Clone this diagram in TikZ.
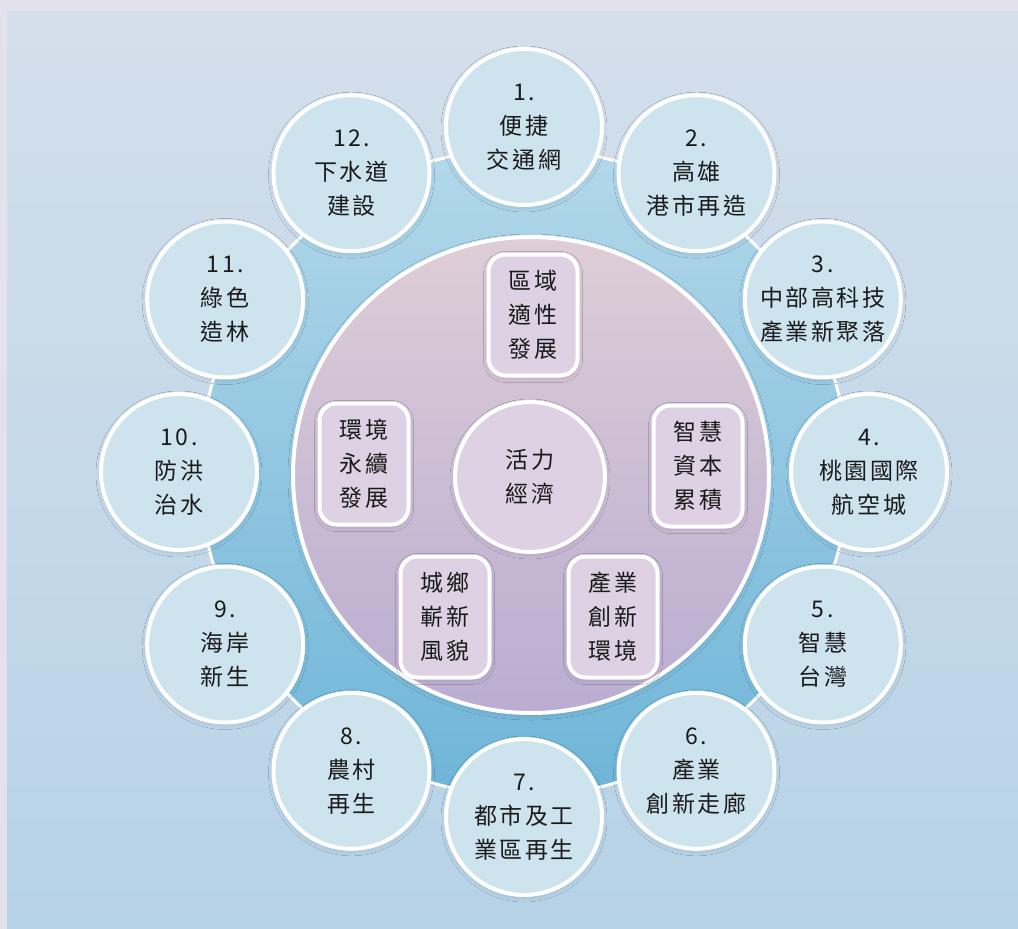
\documentclass[tikz,border=0pt]{standalone}
\usepackage{fontspec}
\newfontfamily\cjk[LetterSpace=11]{Noto Sans CJK TC}
\usetikzlibrary{shadows.blur}
\definecolor{frame}{HTML}{E3E2EC}
\definecolor{paneltop}{HTML}{D4DFEB}
\definecolor{panelbot}{HTML}{B7D3E7}
\definecolor{ringtop}{HTML}{B3D8EA}
\definecolor{ringbot}{HTML}{6FB5D8}
\definecolor{innertop}{HTML}{DDCED7}
\definecolor{innerbot}{HTML}{BAADD1}
\definecolor{smallfill}{HTML}{CDE3EE}
\definecolor{boxfill}{HTML}{DDD1E3}
\definecolor{ink}{HTML}{1A1A1A}
\tikzset{
  softshadow/.style={blur shadow={shadow xshift=0pt, shadow yshift=-2pt, shadow blur radius=5pt, shadow blur steps=10, shadow opacity=14}},
  txt/.style={text=ink, align=center, font=\cjk\fontsize{23}{34}\selectfont},
  item/.style={circle, inner sep=0pt, minimum size=156pt, draw=white, line width=4pt, fill=smallfill, txt, softshadow},
  pillar/.style={rectangle, rounded corners=17pt, inner sep=0pt, minimum width=89pt, minimum height=121pt, draw=white, line width=4pt, fill=boxfill, txt, softshadow},
  hub/.style={circle, inner sep=0pt, minimum size=150pt, draw=white, line width=4pt, fill=boxfill, txt, softshadow},
}
\begin{document}
\begin{tikzpicture}[x=1pt, y=-1pt]
  \useasboundingbox (0,0) rectangle (1018,929);
  \fill[frame] (0,0) rectangle (1018,929);
  \fill[top color=paneltop, bottom color=panelbot] (7,11) rectangle (1018,929);

  \node[circle, inner sep=0pt, minimum size=648pt, draw=white, line width=3pt,
        top color=ringtop, bottom color=ringbot] (ring) at (524,472) {};
  \node[circle, inner sep=0pt, minimum size=476pt, draw=white, line width=4pt,
        top color=innertop, bottom color=innerbot, softshadow] (inner) at (531,475) {};

  \node[hub] (hub) at (530,477) {活力\\經濟};
  \node[pillar] (p1) at (533,315) {區域\\適性\\發展};
  \node[pillar] (p2) at (698,466) {智慧\\資本\\累積};
  \node[pillar] (p3) at (613,617) {產業\\創新\\環境};
  \node[pillar] (p4) at (445,617) {城鄉\\嶄新\\風貌};
  \node[pillar] (p5) at (364,464) {環境\\永續\\發展};

  \node[item] (c1)  at (524,127)     {1.\\便捷\\交通網};
  \node[item] (c2)  at (696.5,173.2) {2.\\高雄\\港市再造};
  \node[item] (c3)  at (822.8,299.5) {3.\\中部高科技\\產業新聚落};
  \node[item] (c4)  at (869,472)     {4.\\桃園國際\\航空城};
  \node[item] (c5)  at (822.8,644.5) {5.\\智慧\\台灣};
  \node[item] (c6)  at (696.5,770.8) {6.\\產業\\創新走廊};
  \node[item] (c7)  at (524,817)     {7.\\都市及工\\業區再生};
  \node[item] (c8)  at (351.5,770.8) {8.\\農村\\再生};
  \node[item] (c9)  at (225.2,644.5) {9.\\海岸\\新生};
  \node[item] (c10) at (179,472)     {10.\\防洪\\治水};
  \node[item] (c11) at (225.2,299.5) {11.\\綠色\\造林};
  \node[item] (c12) at (351.5,173.2) {12.\\下水道\\建設};
\end{tikzpicture}
\end{document}
